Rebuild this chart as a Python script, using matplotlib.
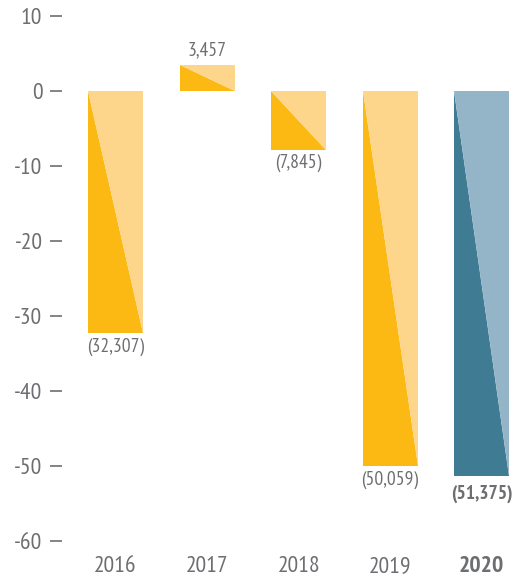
import matplotlib
matplotlib.use("Agg")
import matplotlib.pyplot as plt
import matplotlib.patches as patches

# net results per year, in thousands
years = ["2016", "2017", "2018", "2019", "2020"]
values = [-32307, 3457, -7845, -50059, -51375]
yticks = [10, 0, -10, -20, -30, -40, -50, -60]

dark_colors = ["#FCB813", "#FCB813", "#FCB813", "#FCB813", "#3F7C93"]
light_colors = ["#FED68B", "#FED68B", "#FED68B", "#FED68B", "#94B5C7"]
text_color = "#6D6E71"

plt.rcParams["font.family"] = ["PT Sans Narrow", "DejaVu Sans"]


def fmt(v):
    s = "{:,}".format(abs(v))
    return "(" + s + ")" if v < 0 else s


fig = plt.figure(figsize=(5.19, 5.83), dpi=100)
ax = fig.add_axes([62 / 519, 42 / 583, 448 / 519, 525 / 583])

width = 0.6
for i, v in enumerate(values):
    h = v / 1000
    left, right = i - width / 2, i + width / 2
    top, bottom = max(h, 0), min(h, 0)
    # lower-left half dark, upper-right half light
    ax.add_patch(patches.Polygon([(left, top), (left, bottom), (right, bottom)],
                                 closed=True, facecolor=dark_colors[i],
                                 edgecolor="none"))
    ax.add_patch(patches.Polygon([(left, top), (right, top), (right, bottom)],
                                 closed=True, facecolor=light_colors[i],
                                 edgecolor="none"))
    bold = i == len(values) - 1
    if h >= 0:
        ax.annotate(fmt(v), (i, h), xytext=(0, 4), textcoords="offset points",
                    ha="center", va="bottom", fontsize=14, color=text_color)
    else:
        ax.annotate(fmt(v), (i, h), xytext=(0, -3 if not bold else -6),
                    textcoords="offset points", ha="center", va="top",
                    fontsize=14, color=text_color,
                    fontweight="bold" if bold else "normal")

ax.set_xlim(-0.585, 4.31)
ax.set_ylim(-60, 10)
ax.set_yticks(yticks)
ax.set_yticklabels([str(t) for t in yticks])
ax.set_xticks(range(len(years)))
ax.set_xticklabels(years)
for lbl in ax.get_xticklabels()[-1:]:
    lbl.set_fontweight("bold")

for s in ax.spines.values():
    s.set_visible(False)
ax.tick_params(axis="y", direction="out", length=8.6, width=1.2,
               color=text_color, labelcolor=text_color, labelsize=17, pad=5.5)
ax.tick_params(axis="x", length=0, labelcolor=text_color, labelsize=17, pad=11)

fig.savefig("out.png", dpi=100)
